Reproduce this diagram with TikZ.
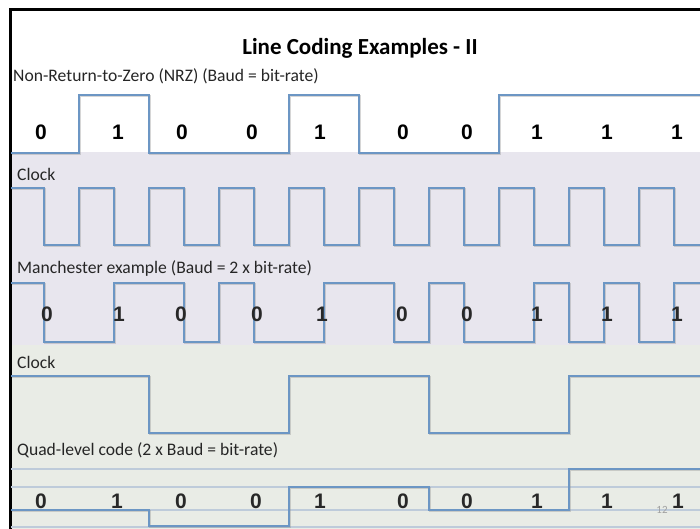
\documentclass[tikz,border=0pt]{standalone}
\usepackage{fontspec}
\setmainfont{Carlito}
\newfontfamily\digitfont{Liberation Sans}
\definecolor{lavender}{RGB}{232,230,238}
\definecolor{sage}{RGB}{233,236,230}
\definecolor{wavecol}{RGB}{108,150,196}
\definecolor{levelgrey}{RGB}{190,203,218}
\definecolor{labelink}{RGB}{38,38,38}
\definecolor{digitink}{RGB}{40,40,40}
\definecolor{pagegrey}{RGB}{160,160,160}
\begin{document}
\begin{tikzpicture}[x=1pt,y=-1pt,
  wave/.style={draw=wavecol, line width=1.7pt, line join=miter,
    preaction={draw=black!45, opacity=0.35, line width=1.7pt,
      transform canvas={shift={(0.7pt,-0.9pt)}}}},
  level/.style={draw=levelgrey, line width=1.7pt},
  caption/.style={anchor=base west, inner sep=0pt, text=labelink,
    font=\fontsize{17.6}{20}\selectfont},
  bit/.style={anchor=base, inner sep=0pt,
    font=\digitfont\bfseries\fontsize{21}{24}\selectfont}]
\useasboundingbox (0,0) rectangle (700,529);

% slide panels
\fill[white] (0,0) rectangle (700,529);
\fill[lavender] (10,152) rectangle (700,345);
\fill[sage] (10,345) rectangle (700,529);
\draw[black, line width=2.4pt] (10.3,529) -- (10.3,9.5) -- (700,9.5);

% title and captions
\node[anchor=base, inner sep=0pt, font=\bfseries\fontsize{23}{27}\selectfont]
  (title) at (360,55) {Line Coding Examples - II};
\node[caption] (nrzlabel) at (13,82) {Non-Return-to-Zero (NRZ) (Baud = bit-rate)};
\node[caption] (clkalabel) at (17,181) {Clock};
\node[caption] (manlabel) at (17,273) {Manchester example (Baud = 2 x bit-rate)};
\node[caption] (clkblabel) at (17,368) {Clock};
\node[caption] (quadlabel) at (17,455) {Quad-level code (2 x Baud = bit-rate)};

% NRZ signal
\draw[wave] (11,153) -- (79,153) -- (79,95) -- (149,95) -- (149,153)
  -- (289,153) -- (289,95) -- (359,95) -- (359,153) -- (499,153)
  -- (499,95) -- (700,95);
\foreach \x/\b [count=\i] in {41/0,118/1,182/0,252/0,320/1,403/0,467/0,537/1,607/1,677/1}
  \node[bit, text=black] (nrz\i) at (\x,140) {\b};

% bit clock
\draw[wave] (11,188)
  \foreach \k in {0,...,8} { -- ({44+70*\k},188) -- ({44+70*\k},245)
    -- ({79+70*\k},245) -- ({79+70*\k},188) }
  -- (674,188) -- (674,245) -- (700,245);

% Manchester signal
\draw[wave] (11,283) -- (44,283) -- (44,342) -- (114,342) -- (114,283)
  -- (184,283) -- (184,342) -- (219,342) -- (219,283) -- (254,283)
  -- (254,342) -- (324,342) -- (324,283) -- (394,283) -- (394,342)
  -- (429,342) -- (429,283) -- (464,283) -- (464,342) -- (534,342)
  -- (534,283) -- (569,283) -- (569,342) -- (604,342) -- (604,283)
  -- (639,283) -- (639,342) -- (674,342) -- (674,283) -- (700,283);
\foreach \x/\b [count=\i] in {47/0,119/1,181/0,257/0,322/1,402/0,467/0,537/1,607/1,677/1}
  \node[bit, text=digitink] (man\i) at (\x,321) {\b};

% symbol clock
\draw[wave] (11,376) -- (149,376) -- (149,433) -- (289,433) -- (289,376)
  -- (429,376) -- (429,433) -- (569,433) -- (569,376) -- (700,376);

% quad-level reference levels and signal
\foreach \y in {469,487,510,527}
  \draw[level] (11,\y) -- (700,\y);
\draw[wave] (11,510) -- (149,510) -- (149,526) -- (289,526) -- (289,487)
  -- (429,487) -- (429,510) -- (569,510) -- (569,469) -- (700,469);
\foreach \x/\b [count=\i] in {41/0,117/1,181/0,256/0,320/1,403/0,467/0,537/1,607/1,678/1}
  \node[bit, text=digitink] (quad\i) at (\x,508) {\b};

% page number
\node[anchor=base, inner sep=0pt, text=pagegrey, font=\fontsize{11}{13}\selectfont]
  (page) at (662,513) {12};
\end{tikzpicture}
\end{document}
